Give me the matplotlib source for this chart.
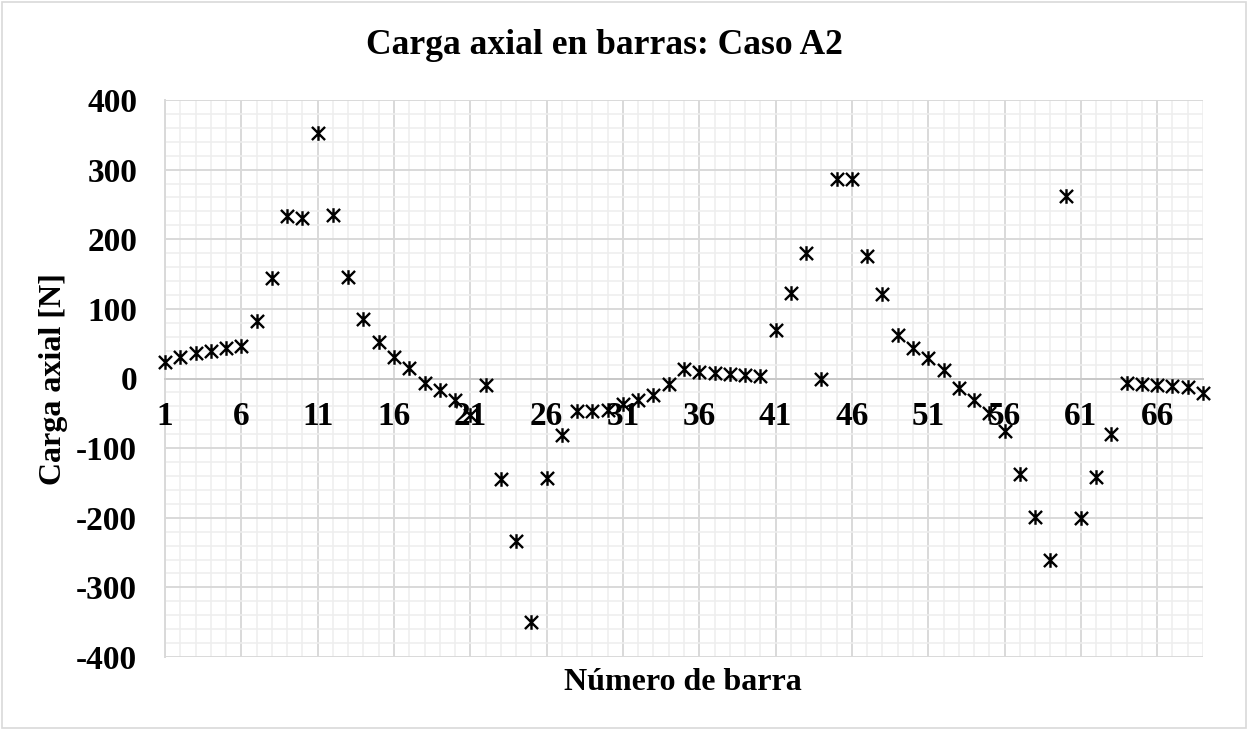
import matplotlib
matplotlib.use("Agg")
import matplotlib.pyplot as plt
from matplotlib.path import Path
from matplotlib.ticker import MultipleLocator, FixedLocator
import numpy as np

bars = list(range(1, 70))
carga = [23, 31, 36, 40, 44, 47, 83, 144, 233, 231,
         352, 235, 146, 86, 53, 31, 15, -6, -16, -31,
         -52, -10, -145, -234, -350, -143, -81, -46, -46, -45,
         -36, -31, -23, -8, 13, 9, 8, 7, 5, 4,
         70, 123, 180, 0, 287, 287, 176, 122, 63, 44,
         29, 12, -14, -31, -50, -76, -137, -199, -260, 262,
         -201, -141, -79, -6, -8, -9, -11, -12, -21]
xticks = list(range(1, 70, 5))
yticks = list(range(-400, 401, 100))

title = "Carga axial en barras: Caso A2"
xlabel = "Número de barra"
ylabel = "Carga axial [N]"

plt.rcParams['axes.unicode_minus'] = False
plt.rcParams['font.family'] = ['Liberation Serif', 'DejaVu Serif']

W, H = 1247, 729
fig = plt.figure(figsize=(W / 100, H / 100), dpi=100)
L, R, T, B = 165, 1203, 100, 657
ax = fig.add_axes([L / W, 1 - B / H, (R - L) / W, (B - T) / H])

# star marker: vertical line + X
verts = [(0, -1), (0, 1), (-0.9, -0.9), (0.9, 0.9), (-0.9, 0.9), (0.9, -0.9)]
codes = [Path.MOVETO, Path.LINETO] * 3
star = Path(verts, codes)

ax.plot(bars, carga, linestyle='none', marker=star, markersize=10.5,
        markeredgecolor='black', markerfacecolor='none', markeredgewidth=1.7,
        zorder=5, clip_on=False)

ax.set_xlim(1, 69)
ax.set_ylim(-400, 400)
ax.xaxis.set_major_locator(FixedLocator(xticks))
ax.xaxis.set_minor_locator(MultipleLocator(1))
ax.yaxis.set_major_locator(FixedLocator(yticks))
ax.yaxis.set_minor_locator(MultipleLocator(20))
ax.set_xticklabels([])
ax.set_yticklabels([str(v) for v in yticks])

ax.grid(which='minor', color='#eeeeee', linewidth=1.1, zorder=0)
ax.grid(which='major', color='#d9d9d9', linewidth=1.4, zorder=1)
ax.set_axisbelow(True)

for s in ['top', 'right']:
    ax.spines[s].set_visible(False)
ax.spines['left'].set_color('#d9d9d9')
ax.spines['left'].set_linewidth(1.4)
ax.spines['bottom'].set_position(('data', 0))
ax.spines['bottom'].set_color('#c8c8c8')
ax.spines['bottom'].set_linewidth(1.4)

ax.tick_params(which='both', length=0)
ax.tick_params(axis='y', pad=20, labelsize=24)
for lab in ax.get_yticklabels():
    lab.set_fontweight('bold')

# x tick labels next to the horizontal axis (at y = 0)
for xv in xticks:
    ax.annotate(str(xv), xy=(xv, 0), xytext=(0, -38), textcoords='offset pixels',
                ha='center', va='center', fontsize=24, fontweight='bold',
                zorder=4, annotation_clip=False)

fig.text(604 / W, 1 - 45 / H, title, ha='center', va='center',
         fontsize=25.6, fontweight='bold')
fig.text(683 / W, 1 - 682 / H, xlabel, ha='center', va='center',
         fontsize=23, fontweight='bold')
fig.text(53 / W, 1 - 379 / H, ylabel, ha='center', va='center',
         fontsize=23, fontweight='bold', rotation=90)

# chart border
fig.patches.append(plt.Rectangle((1.5 / W, 1.5 / H), (W - 3) / W, (H - 3) / H,
                                 transform=fig.transFigure, fill=False,
                                 edgecolor='#d9d9d9', linewidth=1.2))

fig.savefig("out.png", dpi=100)
